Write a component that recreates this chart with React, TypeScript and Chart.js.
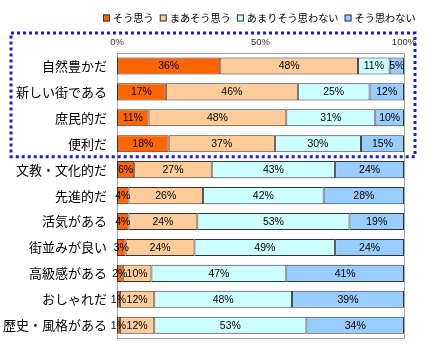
import React, { useEffect, useRef } from "react";
import { Chart, registerables } from "chart.js";

Chart.register(...registerables);

const categories = [
  "自然豊かだ",
  "新しい街である",
  "庶民的だ",
  "便利だ",
  "文教・文化的だ",
  "先進的だ",
  "活気がある",
  "街並みが良い",
  "高級感がある",
  "おしゃれだ",
  "歴史・風格がある",
];
const seriesNames = ["そう思う", "まあそう思う", "あまりそう思わない", "そう思わない"];
const souOmou = [36, 17, 11, 18, 6, 4, 4, 3, 2, 1, 1];
const maaSouOmou = [48, 46, 48, 37, 27, 26, 24, 24, 10, 12, 12];
const amariSouOmowanai = [11, 25, 31, 30, 43, 42, 53, 49, 47, 48, 53];
const souOmowanai = [5, 12, 10, 15, 24, 28, 19, 24, 41, 39, 34];
const xTicks = [0, 50, 100];
const highlightedRows = 4;

const colors = ["#FF6600", "#FFCC99", "#CCFFFF", "#99CCFF"];
const FONT = "'Liberation Sans', 'Noto Sans CJK JP', sans-serif";
const JFONT = "'Noto Sans CJK JP', sans-serif";

const overlayPlugin = {
  id: "overlay",
  beforeDatasetsDraw(chart: any) {
    const { ctx, chartArea } = chart;
    ctx.save();
    ctx.strokeStyle = "#A6A6A6";
    ctx.lineWidth = 1;
    ctx.strokeRect(
      Math.round(chartArea.left) + 0.5,
      Math.round(chartArea.top) + 0.5,
      Math.round(chartArea.right - chartArea.left),
      Math.round(chartArea.bottom - chartArea.top)
    );
    ctx.restore();
  },
  afterDatasetsDraw(chart: any) {
    const { ctx } = chart;
    ctx.save();
    ctx.font = `10.5px ${FONT}`;
    ctx.fillStyle = "#000";
    ctx.textAlign = "center";
    ctx.textBaseline = "middle";
    chart.data.datasets.forEach((ds: any, di: number) => {
      const meta = chart.getDatasetMeta(di);
      meta.data.forEach((el: any, i: number) => {
        const v = ds.data[i];
        const cx = (el.x + el.base) / 2;
        ctx.fillText(`${v}%`, cx, el.y + 0.5);
      });
    });
    ctx.restore();
  },
  afterDraw(chart: any) {
    const { ctx, chartArea, scales } = chart;
    // dotted highlight box
    ctx.save();
    ctx.strokeStyle = "#1A1AE6";
    ctx.lineWidth = 3;
    ctx.setLineDash([3, 3]);
    const top = chartArea.top - 20;
    const bottom = scales.y.getPixelForValue(highlightedRows - 0.5);
    const left = 11;
    const right = chartArea.right + 11;
    ctx.strokeRect(left, top, right - left, bottom - top);
    ctx.restore();

    // legend
    ctx.save();
    ctx.font = `10.2px ${JFONT}`;
    ctx.textBaseline = "middle";
    ctx.textAlign = "left";
    let x = 103;
    const y = 18;
    seriesNames.forEach((name, i) => {
      ctx.fillStyle = colors[i];
      ctx.fillRect(x, y - 3.5, 7, 7);
      ctx.strokeStyle = "#333";
      ctx.lineWidth = 1;
      ctx.strokeRect(x + 0.5, y - 3.5 + 0.5, 6, 6);
      x += 10;
      ctx.fillStyle = "#000";
      ctx.fillText(name, x, y + 0.5);
      x += ctx.measureText(name).width + 6;
    });
    ctx.restore();
  },
};

export default function App() {
  const ref = useRef<HTMLCanvasElement | null>(null);
  useEffect(() => {
    if (!ref.current) return;
    const series = [souOmou, maaSouOmou, amariSouOmowanai, souOmowanai];
    const chart = new Chart(ref.current, {
      type: "bar",
      data: {
        labels: categories,
        datasets: series.map((d, i) => ({
          label: seriesNames[i],
          data: d,
          backgroundColor: colors[i],
          borderColor: "#333",
          borderWidth: 1,
          borderSkipped: false,
          barPercentage: 0.66,
          categoryPercentage: 1,
        })),
      },
      options: {
        indexAxis: "y",
        responsive: false,
        animation: false,
        devicePixelRatio: 1,
        layout: { padding: { top: 30, left: 0, right: 25, bottom: 15 } },
        plugins: {
          legend: { display: false },
          tooltip: { enabled: false },
        },
        scales: {
          x: {
            position: "top",
            stacked: true,
            min: 0,
            max: 100,
            afterBuildTicks: (scale: any) => {
              scale.ticks = xTicks.map((v) => ({ value: v }));
            },
            ticks: {
              callback: (v: any) => `${v}%`,
              font: { size: 9.5, family: FONT },
              color: "#333",
              padding: 5,
              maxRotation: 0,
              autoSkip: false,
            },
            grid: { display: false, drawTicks: false },
            border: { display: false },
            afterFit: (scale: any) => {
              scale.height = 23;
            },
          },
          y: {
            stacked: true,
            ticks: {
              font: { size: 13, family: JFONT },
              color: "#000",
              padding: 10,
              autoSkip: false,
            },
            grid: { display: false, drawTicks: false },
            border: { display: false },
            afterFit: (scale: any) => {
              scale.width = 117;
            },
          },
        },
      },
      plugins: [overlayPlugin],
    } as any);
    return () => chart.destroy();
  }, []);
  return (
    <div style={{ position: "absolute", left: 0, top: 0, width: 429, height: 356, background: "#fff" }}>
      <canvas ref={ref} width={429} height={356} style={{ display: "block" }} />
    </div>
  );
}
